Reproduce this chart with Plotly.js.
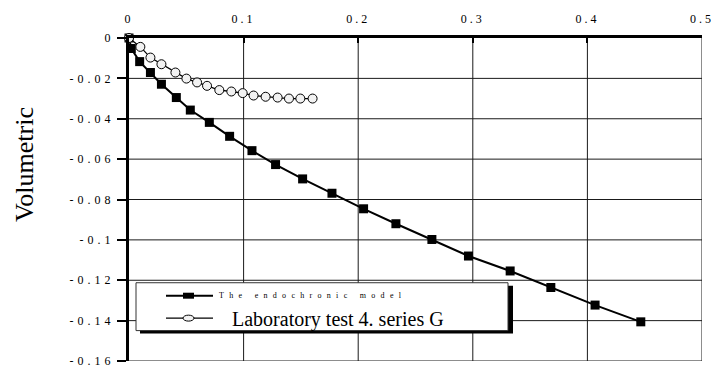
<!DOCTYPE html>
<html>
<head>
<meta charset="utf-8">
<script src="https://cdn.plot.ly/plotly-3.0.1.min.js"></script>
<style>
  html, body { margin: 0; padding: 0; background: #fff; }
  #chart { width: 711px; height: 370px; }
  .xtick text { letter-spacing: 3px; }
  .ytick text { letter-spacing: 4px; }
</style>
</head>
<body>
<div id="chart"></div>
<script>
// Endochronic model prediction (filled squares)
const modelStrain = [0, 0.002, 0.0093, 0.0187, 0.0283, 0.0413, 0.0535, 0.0701, 0.0878, 0.1073,
                     0.1279, 0.1515, 0.1771, 0.2047, 0.2329, 0.2643, 0.2962, 0.3326, 0.3681, 0.4067, 0.4466];
const modelVolumetric = [0, -0.0052, -0.0117, -0.0171, -0.0229, -0.0295, -0.0357, -0.0418, -0.0487, -0.0558,
                         -0.0627, -0.0698, -0.0769, -0.0846, -0.0920, -0.0998, -0.1080, -0.1154, -0.1236, -0.1323, -0.1406];

// Laboratory test 4, series G (open ellipses)
const labStrain = [0, 0.0099, 0.0187, 0.0283, 0.0405, 0.0501, 0.0594, 0.0681, 0.0788, 0.0893,
                   0.0992, 0.1087, 0.1192, 0.1297, 0.1396, 0.1495, 0.1602];
const labVolumetric = [0, -0.0044, -0.0097, -0.0130, -0.0171, -0.0201, -0.0220, -0.0237, -0.0258, -0.0265,
                       -0.0273, -0.0285, -0.0291, -0.0295, -0.0300, -0.0300, -0.0300];

const seriesNames = ['The endochronic model', 'Laboratory test 4. series G'];
const yTitle = 'Volumetric';

const xTickVals = [0, 0.1, 0.2, 0.3, 0.4, 0.5];
const xTickText = ['0', '0.1', '0.2', '0.3', '0.4', '0.5'];
const yTickVals = [0, -0.02, -0.04, -0.06, -0.08, -0.1, -0.12, -0.14, -0.16];
const yTickText = ['0', '-0.02', '-0.04', '-0.06', '-0.08', '-0.1', '-0.12', '-0.14', '-0.16'];

// Plot area geometry in pixels
const M = { l: 129, r: 9, t: 37.5, b: 8.5 };
const W = 711 - M.l - M.r;
const H = 370 - M.t - M.b;
const px = x => (x - M.l) / W;
const py = y => (M.t + H - y) / H;

const serif = 'Liberation Serif, Times New Roman, serif';

// Grid segments at every tick (except the axes themselves), as one line trace under the series
const xMin = Math.min(...xTickVals), xMax = Math.max(...xTickVals);
const yMin = Math.min(...yTickVals), yMax = Math.max(...yTickVals);
const gridX = [], gridY = [];
xTickVals.filter(v => v !== xMin).forEach(v => { gridX.push(v, v, null); gridY.push(yMin, yMax, null); });
yTickVals.filter(v => v !== yMax).forEach(v => { gridX.push(xMin, xMax, null); gridY.push(v, v, null); });

const traces = [
  {
    x: gridX, y: gridY, type: 'scatter', mode: 'lines',
    line: { color: '#1a1a1a', width: 1 },
    connectgaps: false, hoverinfo: 'skip', showlegend: false,
    cliponaxis: false
  },
  {
    x: modelStrain, y: modelVolumetric, name: seriesNames[0],
    type: 'scatter', mode: 'lines+markers',
    line: { color: '#000', width: 2 },
    marker: { symbol: 'square', size: 9, color: '#000' },
    cliponaxis: false
  },
  {
    x: labStrain, y: labVolumetric, name: seriesNames[1],
    type: 'scatter', mode: 'lines+markers',
    line: { color: '#000', width: 1.3 },
    marker: { symbol: 'circle', size: 9, color: '#f2f2f2', line: { color: '#000', width: 1 } },
    cliponaxis: false
  }
];

// Hand-built legend box with a drop shadow
const legendShapes = [
  { type: 'rect', xref: 'paper', yref: 'paper', layer: 'above',
    x0: px(140), x1: px(513), y0: py(286), y1: py(334),
    fillcolor: '#000', line: { width: 0 } },
  { type: 'rect', xref: 'paper', yref: 'paper', layer: 'above',
    x0: px(136), x1: px(508), y0: py(283), y1: py(331),
    fillcolor: '#fff', line: { color: '#333', width: 1 } },
  { type: 'line', xref: 'paper', yref: 'paper', layer: 'above',
    x0: px(166), x1: px(213), y0: py(296), y1: py(296), line: { color: '#000', width: 2 } },
  { type: 'rect', xref: 'paper', yref: 'paper', layer: 'above',
    x0: px(183), x1: px(194), y0: py(293), y1: py(299), fillcolor: '#000', line: { width: 0 } },
  { type: 'line', xref: 'paper', yref: 'paper', layer: 'above',
    x0: px(166), x1: px(213), y0: py(318.5), y1: py(318.5), line: { color: '#000', width: 1.3 } },
  { type: 'circle', xref: 'paper', yref: 'paper', layer: 'above',
    x0: px(183), x1: px(194), y0: py(315.5), y1: py(321.5), fillcolor: '#f2f2f2', line: { color: '#000', width: 1 } }
];

const annotations = [
  { xref: 'paper', yref: 'paper', x: px(24), y: py(165), xanchor: 'center', yanchor: 'middle',
    text: yTitle, textangle: -90, showarrow: false,
    font: { family: serif, size: 26, color: '#000' } },
  { xref: 'paper', yref: 'paper', x: px(217), y: py(296), xanchor: 'left', yanchor: 'middle',
    text: '<span style="letter-spacing:5.3px">' + seriesNames[0] + '</span>', showarrow: false,
    font: { family: serif, size: 8, color: '#000' } },
  { xref: 'paper', yref: 'paper', x: px(230), y: py(320), xanchor: 'left', yanchor: 'middle',
    text: seriesNames[1], showarrow: false,
    font: { family: serif, size: 20, color: '#000' } }
];

const layout = {
  width: 711, height: 370,
  margin: M,
  showlegend: false,
  xaxis: {
    side: 'top', range: [xMin, xMax],
    tickmode: 'array', tickvals: xTickVals, ticktext: xTickText,
    showline: true, linecolor: '#000', linewidth: 3,
    ticks: 'inside', ticklen: 5, tickwidth: 2, tickcolor: '#000',
    ticklabelstandoff: 7, ticklabeloverflow: 'allow',
    showgrid: false, zeroline: false,
    tickfont: { family: serif, size: 12, color: '#000' }
  },
  yaxis: {
    range: [yMin, yMax],
    tickmode: 'array', tickvals: yTickVals, ticktext: yTickText,
    showline: true, linecolor: '#000', linewidth: 3,
    ticks: 'outside', ticklen: 9, tickwidth: 2, tickcolor: '#000',
    showgrid: false, zeroline: false,
    tickfont: { family: serif, size: 12, color: '#000' }
  },
  shapes: legendShapes,
  annotations: annotations
};

Plotly.newPlot('chart', traces, layout, { displayModeBar: false, staticPlot: true });
</script>
</body>
</html>
